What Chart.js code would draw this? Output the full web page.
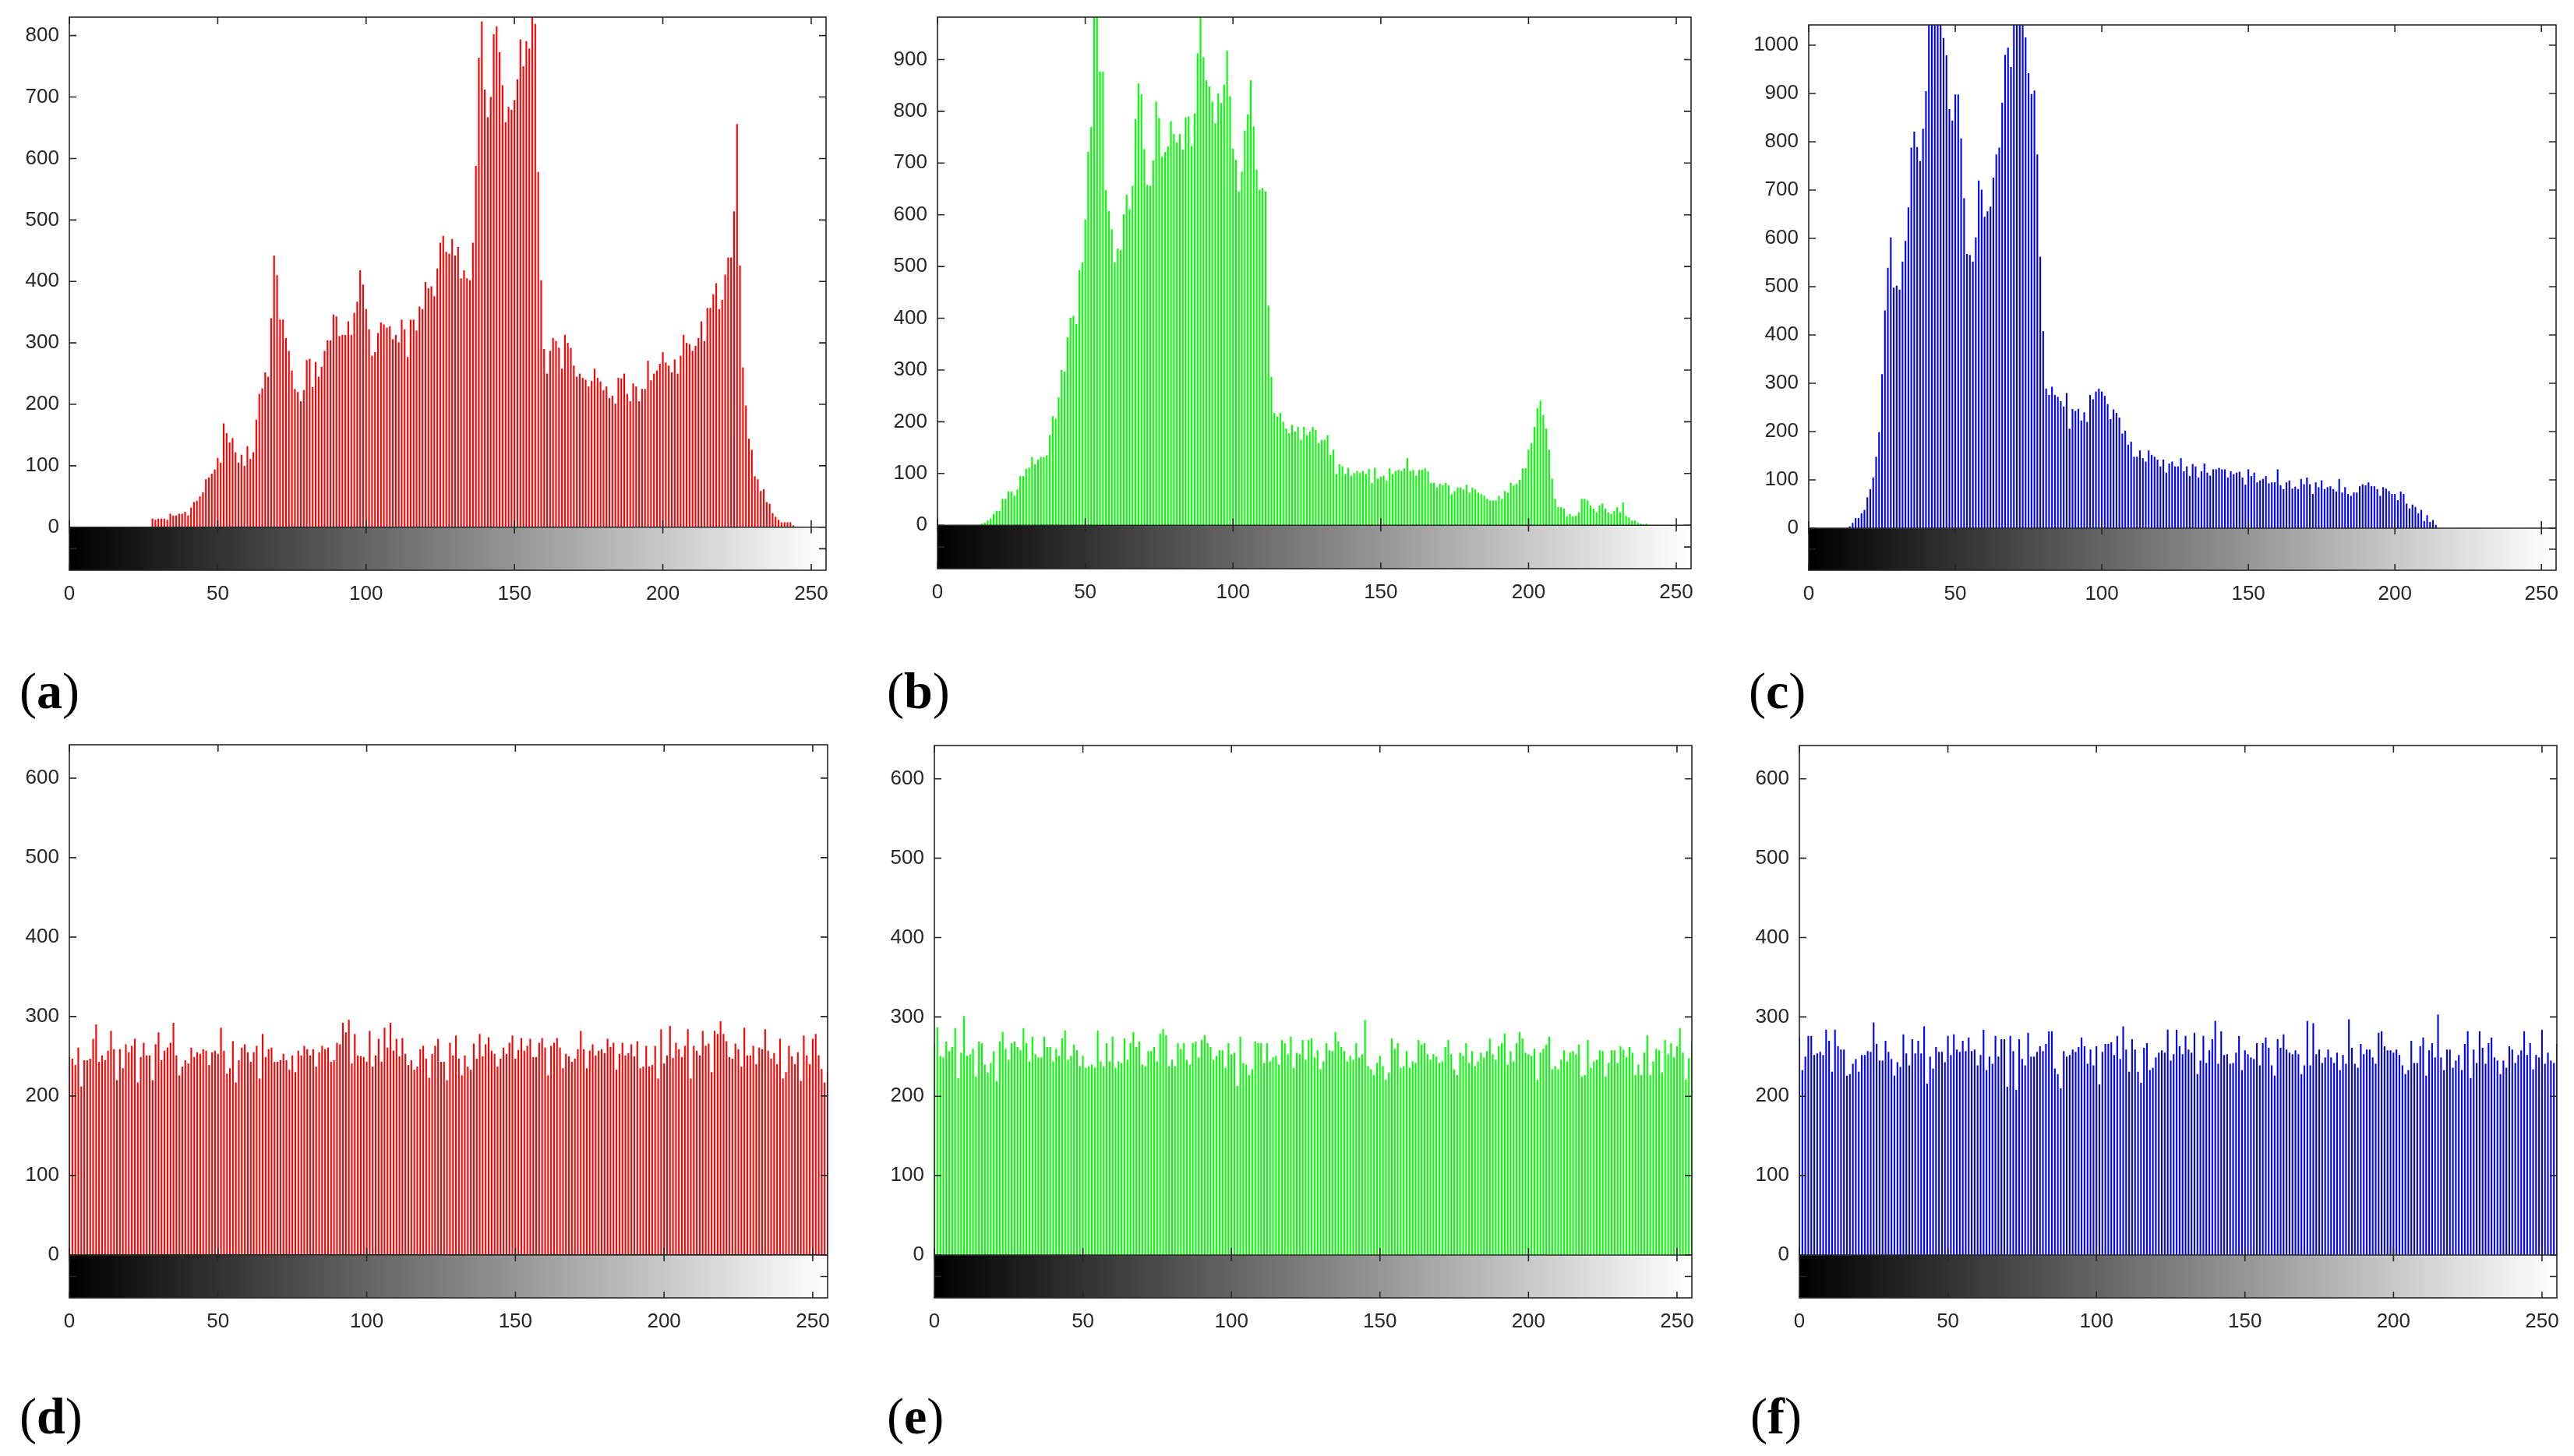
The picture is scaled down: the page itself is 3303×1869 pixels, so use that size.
<!DOCTYPE html>
<html><head><meta charset="utf-8">
<script src="https://cdn.jsdelivr.net/npm/chart.js@4.4.1/dist/chart.umd.min.js"></script>
<style>
html,body{margin:0;padding:0;background:#fff;}
body{width:3303px;height:1869px;position:relative;overflow:hidden;}
.cw{position:absolute;}
.cw canvas{display:block;}
.lbl{position:absolute;font-family:"Liberation Serif","DejaVu Serif",serif;font-size:66px;line-height:70px;color:#000;white-space:nowrap;}
.lbl b{font-weight:bold;}
</style></head><body>
<div class="lbl" style="left:25px;top:852px">(<b>a</b>)</div>
<div class="lbl" style="left:1138px;top:852px">(<b>b</b>)</div>
<div class="lbl" style="left:2244px;top:852px">(<b>c</b>)</div>
<div class="lbl" style="left:25px;top:1783px">(<b>d</b>)</div>
<div class="lbl" style="left:1138px;top:1783px">(<b>e</b>)</div>
<div class="lbl" style="left:2246px;top:1783px">(<b>f</b>)</div>
<script>
// ---------------- data ----------------
const bins = Array.from({length:256},(_,i)=>i);   // gray levels 0..255
const xTicks = [0,50,100,150,200,250];
const yTicksA = [0,100,200,300,400,500,600,700,800];
const yTicksB = [0,100,200,300,400,500,600,700,800,900];
const yTicksC = [0,100,200,300,400,500,600,700,800,900,1000];
const yTicksBottom = [0,100,200,300,400,500,600];

// (a) red channel, plain image
const histA = [
0,0,0,0,0,0,0,0,0,0, 0,0,0,0,0,0,0,0,0,0, 0,0,0,0,0,0,0,0,
14,12,14,14,14,12,22,19,19,22,
22,25,19,32,41,43,50,57,78,81,
87,94,113,105,169,153,138,145,122,105,
118,100,132,111,122,175,217,226,252,245,
340,442,410,338,338,308,287,255,225,220,
205,223,272,274,228,269,245,261,287,304,
304,346,343,311,313,313,335,313,349,367,
418,395,355,322,279,285,316,333,330,325,
327,306,313,301,338,322,277,338,338,320,
359,355,399,389,392,376,
421,463,474,448,445,469,442,456,405,418,
405,402,463,588,764,823,712,667,700,802,
815,773,719,659,684,679,695,729,794,750,
791,779,850,819,578,402,290,250,287,308,
303,292,258,313,300,292,263,245,250,243,
240,229,238,258,243,237,223,229,210,214,
201,243,242,250,217,205,234,229,205,225,
225,271,239,250,255,266,285,268,263,252,
273,250,279,313,300,298,287,295,308,335,
303,357,357,379,397,355,370,411,439,439,
514,656,426,260,198,144,126,83,78,59,
62,41,38,23,17,12,8,8,8,8,
3,
0,0,0,0,0,0,0,0,0,0,0
];

// (b) green channel, plain image
const histB = [
0,0,0,0,0,0,0,0,0,0,0,0,0,0,0,
3,5,9,13,22,28,28,51,51,65,
65,57,69,95,95,109,111,132,118,127,
132,132,135,174,211,206,247,300,297,363,
401,405,389,493,508,591,722,770,990,990,
877,877,648,607,572,508,535,532,601,639,
611,656,785,854,833,727,658,656,705,819,
787,712,721,732,781,756,740,756,726,788,
790,733,796,912,985,905,860,848,819,777,
835,816,851,917,829,728,706,645,683,763,
794,860,771,687,648,652,645,424,287,
217,210,217,200,
187,178,194,181,190,165,190,174,181,190,
184,159,165,165,174,136,146,99,118,114,
99,111,96,101,105,101,105,99,109,82,
111,90,94,96,86,110,99,105,107,105,
110,130,105,107,96,107,107,110,104,82,
82,73,80,77,82,77,60,66,73,73,
69,78,63,73,69,63,60,57,51,48,
48,48,57,51,66,63,82,77,80,88,
110,110,146,159,190,226,241,213,187,146,
90,51,35,35,32,17,22,17,18,25,
51,51,48,38,32,25,38,42,32,25,
22,28,35,25,44,18,15,9,9,5,
3,
2,3,
0,0,0,0,0,0,0,0,0,0,0,0,0,0,0
];

// (c) blue channel, plain image
const histC = [
0,0,0,0,0,0,0,0,0,0,0,0,0,0,
4,11,21,21,31,38,64,81,105,148,
199,319,451,539,602,498,502,494,552,595,
664,788,821,789,760,827,905,1060,1060,1060,
1060,1060,1015,979,868,844,898,898,807,683,
568,566,552,602,720,701,645,656,666,726,
774,788,881,980,995,955,1060,1060,1060,1060,
1016,942,899,906,774,562,408,289,276,293,
276,272,263,252,280,206,247,243,247,223,240,
220,276,267,283,289,283,274,257,226,246,
239,229,196,202,173,179,148,148,161,145,
138,161,152,148,142,128,142,115,134,
138,128,128,145,118,128,108,133,128,105,
118,134,115,109,122,122,125,122,122,105,
118,112,115,117,105,90,122,108,115,95,
99,102,108,93,95,95,122,89,81,95,
99,82,86,81,102,91,105,91,71,95,
85,99,81,85,87,81,76,102,74,85,
71,67,74,74,87,91,89,95,87,87,
81,67,85,82,77,71,71,58,76,71,
51,41,49,44,31,38,15,27,13,17,
7,
0,0,0,0,0,0,0,0,0,0, 0,0,0,0,0,0,0,0,0,0,
0,0,0,0,0,0,0,0,0,0, 0,0,0,0,0,0,0,0,0,0, 0
];

// (d) red channel, encrypted image
const histD = [
249,247,239,261,212,245,245,247,272,290,
243,251,245,257,282,259,220,259,235,265,
255,263,272,217,249,267,251,251,220,265,
280,245,257,261,267,292,251,226,237,245,
241,261,249,255,253,259,257,239,255,257,
253,286,257,228,235,269,217,245,261,265,
255,243,255,263,222,278,249,259,261,243,
243,245,253,245,233,251,230,257,251,263,
259,251,259,237,255,263,259,261,243,245,
267,265,292,280,296,241,278,251,250,249,
243,282,237,251,272,243,286,261,292,257,
272,250,273,253,239,245,233,237,259,263,
247,
223,253,263,272,243,243,220,267,251,276,
247,226,251,237,233,266,247,278,250,265,
274,257,253,237,247,261,253,267,276,247,
258,
273,257,263,272,249,249,267,273,261,226,
263,267,273,261,235,253,250,243,247,259,
282,259,235,257,265,251,257,259,254,272,
262,
267,233,253,267,251,254,265,250,269,235,
237,263,237,239,263,222,284,241,251,288,
248,
267,259,249,263,284,222,263,257,251,282,
263,266,230,282,278,294,278,269,249,247,
266,
259,237,286,251,251,263,240,261,259,284,
257,247,254,240,272,222,230,263,250,240,
255,
219,276,251,240,272,278,251,234,217,230
];

// (e) green channel, encrypted image
const histE = [
267,287,251,249,269,257,262,286,223,255,
301,251,253,260,225,269,267,240,230,242,
257,219,269,281,260,246,267,269,262,258,
286,267,244,275,253,249,249,275,262,262,
244,260,251,273,283,246,251,265,258,238,
251,236,238,240,236,283,244,238,267,244,
275,236,244,242,273,246,267,281,262,269,
240,238,257,257,262,244,279,285,277,238,
246,238,267,260,267,246,240,267,269,249,
271,277,267,262,246,251,258,258,236,267,
253,255,213,275,242,240,227,234,269,267,
267,242,267,244,249,251,240,271,267,253,
275,236,255,253,271,246,271,273,249,
258,234,244,267,258,257,281,269,262,257,
244,251,246,267,249,253,296,238,234,227,
242,251,238,221,230,273,260,267,236,238,
257,236,244,242,271,265,267,253,246,253,
250,
242,244,262,271,253,234,227,255,251,267,
242,257,238,244,255,249,257,273,253,246,
263,
267,279,240,257,244,267,281,273,255,253,
251,260,221,255,260,265,275,234,238,234,
246,
258,244,255,257,253,265,225,227,271,236,
244,246,258,257,225,242,258,258,242,263,
259,
249,262,255,227,240,227,255,277,227,244,
260,258,230,271,253,267,249,263,286,255,
221,248,267
];

// (f) blue channel, encrypted image
const histF = [
274,233,250,276,276,252,254,256,252,284,
270,231,284,263,259,259,226,228,241,247,
231,252,252,257,256,293,266,245,245,270,
256,247,226,243,237,278,254,239,272,254,
270,254,288,216,250,235,262,256,256,243,
276,252,278,259,256,270,257,274,257,259,
239,252,284,233,250,241,276,250,272,272,
212,276,257,208,272,247,239,280,250,250,
256,263,257,266,282,282,235,228,210,257,
250,252,259,256,262,274,263,241,259,239,
263,215,256,266,266,268,252,276,247,288,
259,231,272,259,231,217,
261,267,233,236,249,255,258,255,284,245,
253,284,263,253,276,259,255,280,228,245,
276,242,258,272,295,241,282,252,253,241,
242,255,276,233,258,253,249,247,267,239,
267,274,261,239,226,272,261,278,259,255,
253,258,253,228,239,295,239,292,253,259,
242,249,259,249,242,255,233,252,241,297,
261,241,236,266,253,259,259,249,241,280,
282,263,258,258,255,259,252,239,228,
233,270,242,242,263,274,226,258,267,249,
303,249,233,259,259,236,245,252,233,266,
282,223,259,242,282,261,241,267,274,249,
245,228,245,236,263,259,242,252,258,282,
252,267,234,252,249,284,241,255,245,242,
266
];

// ---------------- layout / style ----------------
const panels = [
  {hist:histA, color:'#ff0000', yTicks:yTicksA, yMin:-70, yMax:830,  box:[89,22,1060,732]},
  {hist:histB, color:'#00ff00', yTicks:yTicksB, yMin:-84, yMax:982,  box:[1203,22,2170,730]},
  {hist:histC, color:'#0000ff', yTicks:yTicksC, yMin:-87, yMax:1042, box:[2321,32,3280,732]},
  {hist:histD, color:'#ff0000', yTicks:yTicksBottom, yMin:-54, yMax:642, box:[89,956,1062,1666]},
  {hist:histE, color:'#00ff00', yTicks:yTicksBottom, yMin:-54, yMax:642, box:[1199,957,2171,1666]},
  {hist:histF, color:'#0000ff', yTicks:yTicksBottom, yMin:-54, yMax:642, box:[2309,957,3281,1666]},
];
const PADL=110, PADT=40, PADR=40, PADB=60;
const AX='#262626';
const FONT={family:'"Liberation Sans", Arial, sans-serif', size:26};

function makeFramePlugin(yTicks){
  return {
    id:'frame',
    beforeDatasetsDraw(chart){
      const {ctx, chartArea:a, scales:{x,y}} = chart;
      const y0 = y.getPixelForValue(0);
      const g = ctx.createLinearGradient(x.getPixelForValue(0),0,x.getPixelForValue(255),0);
      g.addColorStop(0,'#000000'); g.addColorStop(1,'#ffffff');
      ctx.save();
      ctx.fillStyle=g;
      ctx.fillRect(a.left, y0, a.right-a.left, a.bottom-y0);
      ctx.restore();
    },
    afterDatasetsDraw(chart){
      const {ctx, chartArea:a, scales:{x,y}} = chart;
      const y0 = y.getPixelForValue(0);
      const T=9;
      ctx.save();
      ctx.strokeStyle=AX; ctx.lineWidth=1.6; ctx.lineCap='butt';
      ctx.beginPath();
      yTicks.forEach(v=>{
        const py=y.getPixelForValue(v);
        ctx.moveTo(a.left,py); ctx.lineTo(a.left+T,py);
        ctx.moveTo(a.right,py); ctx.lineTo(a.right-T,py);
      });
      const cm=(y0+a.bottom)/2;
      ctx.moveTo(a.left,cm); ctx.lineTo(a.left+T,cm);
      ctx.moveTo(a.right,cm); ctx.lineTo(a.right-T,cm);
      xTicks.forEach(v=>{
        const px=x.getPixelForValue(v);
        ctx.moveTo(px,a.top); ctx.lineTo(px,a.top+T);
        ctx.moveTo(px,y0-T); ctx.lineTo(px,y0+T-1);
        ctx.moveTo(px,a.bottom); ctx.lineTo(px,a.bottom-T+1);
      });
      ctx.stroke();
      ctx.beginPath();
      ctx.moveTo(a.left,y0); ctx.lineTo(a.right,y0);
      ctx.stroke();
      ctx.strokeRect(a.left,a.top,a.right-a.left,a.bottom-a.top);
      ctx.restore();
    }
  };
}

panels.forEach(p=>{
  const [l,t,r,b]=p.box;
  const W=(r-l)+PADL+PADR, H=(b-t)+PADT+PADB;
  const div=document.createElement('div');
  div.className='cw';
  div.style.left=(l-PADL)+'px'; div.style.top=(t-PADT)+'px';
  div.style.width=W+'px'; div.style.height=H+'px';
  const cv=document.createElement('canvas');
  cv.width=W; cv.height=H; cv.style.width=W+'px'; cv.style.height=H+'px';
  div.appendChild(cv); document.body.appendChild(div);
  new Chart(cv,{
    type:'bar',
    data:{datasets:[{
      data: bins.map((g,i)=>({x:g, y:p.hist[i]})),
      backgroundColor:p.color, borderWidth:0,
      barThickness:2.1, inflateAmount:0, grouped:false
    }]},
    options:{
      responsive:false, maintainAspectRatio:false, devicePixelRatio:1,
      animation:false, events:[],
      layout:{padding:{left:0,top:PADT,right:PADR,bottom:0}},
      plugins:{legend:{display:false}, tooltip:{enabled:false}},
      scales:{
        x:{type:'linear', min:0, max:255, offset:false,
           grid:{display:false, drawTicks:false}, border:{display:false},
           afterBuildTicks:s=>{ s.ticks = xTicks.map(v=>({value:v})); },
           afterFit:s=>{ s.height=PADB; },
           ticks:{color:AX, font:FONT, padding:15, maxRotation:0, autoSkip:false,
                  callback:v=>String(v)}},
        y:{type:'linear', min:p.yMin, max:p.yMax,
           grid:{display:false, drawTicks:false}, border:{display:false},
           afterBuildTicks:s=>{ s.ticks = p.yTicks.map(v=>({value:v})); },
           afterFit:s=>{ s.width=PADL; },
           ticks:{color:AX, font:FONT, padding:13, autoSkip:false,
                  callback:v=>String(v)}}
      }
    },
    plugins:[makeFramePlugin(p.yTicks)]
  });
});
</script>
</body></html>
